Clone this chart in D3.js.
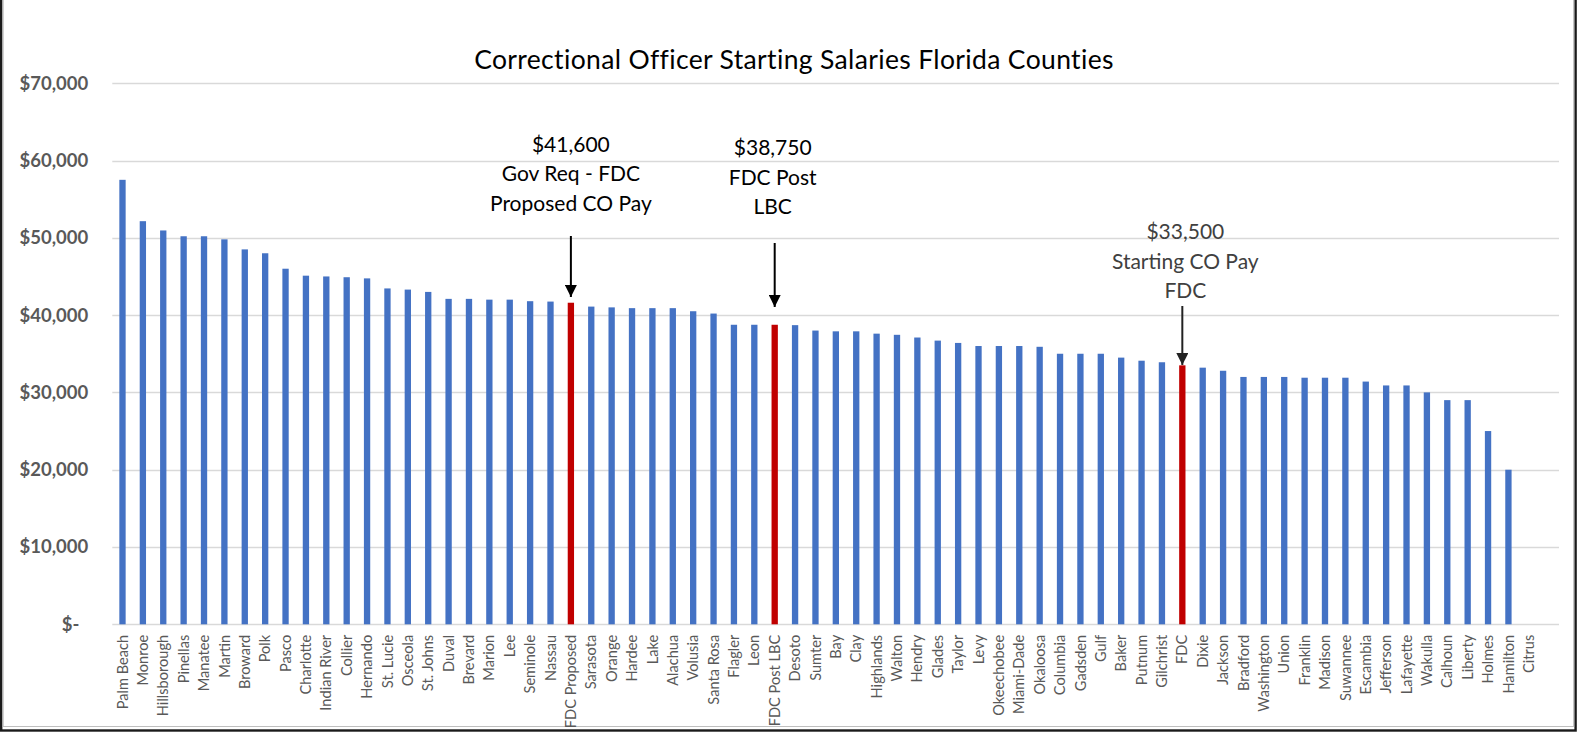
<!DOCTYPE html>
<html>
<head>
<meta charset="utf-8">
<script src="https://cdn.jsdelivr.net/npm/d3@7"></script>
<style>
  html, body { margin: 0; padding: 0; background: #fff; }
  svg { display: block; }
</style>
</head>
<body>
<svg id="chart" width="1577" height="736"></svg>
<script>
// ---------------- DATA ----------------
const categories = [
  "Palm Beach","Monroe","Hillsborough","Pinellas","Manatee","Martin","Broward","Polk","Pasco","Charlotte",
  "Indian River","Collier","Hernando","St. Lucie","Osceola","St. Johns","Duval","Brevard","Marion","Lee",
  "Seminole","Nassau","FDC Proposed","Sarasota","Orange","Hardee","Lake","Alachua","Volusia","Santa Rosa",
  "Flagler","Leon","FDC Post LBC","Desoto","Sumter","Bay","Clay","Highlands","Walton","Hendry",
  "Glades","Taylor","Levy","Okeechobee","Miami-Dade","Okaloosa","Columbia","Gadsden","Gulf","Baker",
  "Putnum","Gilchrist","FDC","Dixie","Jackson","Bradford","Washington","Union","Franklin","Madison",
  "Suwannee","Escambia","Jefferson","Lafayette","Wakulla","Calhoun","Liberty","Holmes","Hamilton","Citrus"
];
const salaries = [
  57500,52150,50950,50200,50200,49800,48500,48000,46000,45100,
  45000,44900,44750,43450,43300,43000,42100,42100,42000,42000,
  41800,41750,41600,41100,41000,40900,40900,40900,40500,40200,
  38750,38750,38750,38700,38000,37900,37900,37600,37450,37100,
  36700,36400,36000,36000,36000,35900,35000,35000,35000,34500,
  34100,33900,33500,33200,32800,32000,32000,32000,31900,31900,
  31900,31400,30900,30900,30000,29000,29000,25000,20000,0
];
const highlighted = ["FDC Proposed","FDC Post LBC","FDC"];
const yTicks = [0,10000,20000,30000,40000,50000,60000,70000];
const chartTitle = "Correctional Officer Starting Salaries Florida Counties";
const annotationTargets = ["FDC Proposed","FDC Post LBC","FDC"];
const annotationLines = [
  ["$41,600","Gov Req - FDC","Proposed CO Pay"],
  ["$38,750","FDC Post","LBC"],
  ["$33,500","Starting CO Pay","FDC"]
];

// ---------------- LAYOUT ----------------
const W = 1577, H = 736;
const plotLeft = 112.3, bandRight = 1539, gridRight = 1559;
const yBase = 624.3, yTop = 83.2;
const blue = "#4472C4", red = "#C00000";
const axisText = "#595959";
const fontFam = "Lato, 'Open Sans', 'DejaVu Sans', sans-serif";

// annotation layout (pixels): text baseline of first line, centre x offset, arrow start / tip y, colour
const annLayout = [
  { baseline: 151.5, dx: 0,  arrowTop: 236, arrowTip: 297, color: "#000" },
  { baseline: 155,   dx: -2, arrowTop: 243, arrowTip: 307, color: "#000" },
  { baseline: 239,   dx: 3,  arrowTop: 306, arrowTip: 365, color: "#404040" }
];

const svg = d3.select("#chart");

const x = d3.scaleBand().domain(categories).range([plotLeft, bandRight]).paddingInner(0.69).paddingOuter(0.345);
const y = d3.scaleLinear().domain([0, 70000]).range([yBase, yTop]);

// border
svg.append("rect").attr("x", 1.2).attr("y", -4).attr("width", W - 2.6).attr("height", H - 1.5)
  .attr("fill", "none").attr("stroke", "#1a1a1a").attr("stroke-width", 2.4);
svg.append("rect").attr("x", 3.2).attr("y", -4).attr("width", W - 6.6).attr("height", H - 5.5)
  .attr("fill", "none").attr("stroke", "#bfbfbf").attr("stroke-width", 1);

// gridlines
svg.append("g").selectAll("line").data(yTicks).join("line")
  .attr("x1", plotLeft).attr("x2", gridRight)
  .attr("y1", d => Math.round(y(d)) + 0.5).attr("y2", d => Math.round(y(d)) + 0.5)
  .attr("stroke", "#d9d9d9").attr("stroke-width", 1.3);

// y-axis labels via d3 axis
const fmt = d => d === 0 ? "$-" : "$" + d3.format(",")(d);
const yAxis = svg.append("g").attr("transform", `translate(${plotLeft},0)`)
  .call(d3.axisLeft(y).tickValues(yTicks).tickFormat(fmt).tickSize(0).tickPadding(24));
yAxis.select(".domain").remove();
yAxis.selectAll("text")
  .attr("fill", axisText).attr("font-family", fontFam).attr("font-weight", "bold").attr("font-size", "18.5px")
  .attr("dx", d => d === 0 ? -9 : 0);

// bars
svg.append("g").selectAll("rect").data(categories).join("rect")
  .attr("x", d => x(d))
  .attr("width", x.bandwidth())
  .attr("y", (d, i) => y(salaries[i]))
  .attr("height", (d, i) => yBase - y(salaries[i]))
  .attr("fill", d => highlighted.includes(d) ? red : blue);

// x-axis labels via d3 axis
const xAxis = svg.append("g").attr("transform", `translate(0,${yBase})`)
  .call(d3.axisBottom(x).tickSize(0).tickPadding(0));
xAxis.select(".domain").remove();
xAxis.selectAll("text")
  .attr("fill", axisText).attr("font-family", fontFam).attr("font-size", "14.6px")
  .attr("transform", "rotate(-90)")
  .attr("text-anchor", "end")
  .attr("x", -10.5).attr("y", 0).attr("dy", "0.35em");

// title
svg.append("text").attr("x", 794).attr("y", 69)
  .attr("text-anchor", "middle").attr("font-family", fontFam).attr("font-size", "26.5px")
  .attr("letter-spacing", "0.35px")
  .attr("fill", "#000").text(chartTitle);

// arrow marker
const defs = svg.append("defs");
["#000", "#222"].forEach((c, i) => {
  defs.append("marker").attr("id", "arr" + i).attr("viewBox", "0 0 10 10")
    .attr("refX", 10).attr("refY", 5).attr("markerUnits", "userSpaceOnUse")
    .attr("markerWidth", 12).attr("markerHeight", 12).attr("orient", "auto")
    .append("path").attr("d", "M0,0 L10,5 L0,10 Z").attr("fill", c);
});

// annotations
annotationTargets.forEach((cat, k) => {
  const cx = x(cat) + x.bandwidth() / 2;
  const L = annLayout[k];
  const g = svg.append("g");
  annotationLines[k].forEach((line, j) => {
    g.append("text").attr("x", cx + L.dx).attr("y", L.baseline + j * 29.5)
      .attr("text-anchor", "middle").attr("font-family", fontFam).attr("font-size", "21px")
      .attr("fill", L.color).text(line);
  });
  g.append("line").attr("x1", cx).attr("x2", cx).attr("y1", L.arrowTop).attr("y2", L.arrowTip)
    .attr("stroke", k === 2 ? "#222" : "#000").attr("stroke-width", 2)
    .attr("marker-end", `url(#arr${k === 2 ? 1 : 0})`);
});
</script>
</body>
</html>
